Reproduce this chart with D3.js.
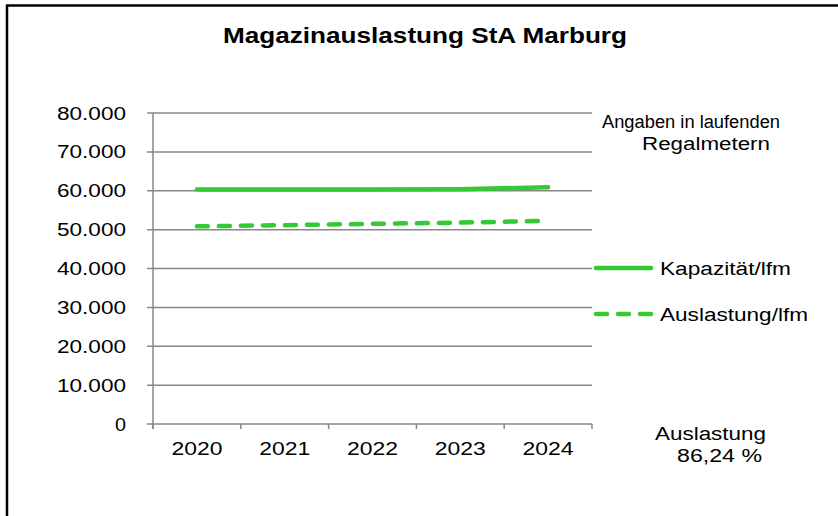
<!DOCTYPE html>
<meta charset="utf-8">
<script src="https://d3js.org/d3.v7.min.js"></script>
<style>
body{margin:0;background:#fff;}
text{font-family:"Liberation Sans",Arial,sans-serif;fill:#000;}
</style>
<body>
<div id="chart"></div>
<script>
var years = ["2020","2021","2022","2023","2024"];
var kapazitaet = [60300, 60300, 60300, 60400, 60900];
var auslastung = [50850, 51150, 51500, 51800, 52300];
var yTicks = [0,10000,20000,30000,40000,50000,60000,70000,80000];
var green = "#35c935";
var grid = "#878787";

var svg = d3.select("#chart").append("svg").attr("width",838).attr("height",516);

// Rahmen oben/links
svg.append("line").attr("x1",6).attr("x2",838).attr("y1",5.5).attr("y2",5.5).attr("stroke","#000").attr("stroke-width",2.5);
svg.append("line").attr("x1",7).attr("x2",7).attr("y1",5).attr("y2",516).attr("stroke","#000").attr("stroke-width",2.5);

var x = d3.scaleBand().domain(years).range([153,592]);
var y = d3.scaleLinear().domain([0,80000]).range([424,113]);
var fmt = function(d){ return d===0 ? "0" : d3.format(",")(d).replace(/,/g,"."); };

// Gitterlinien
svg.append("g").selectAll("line").data(yTicks).join("line")
  .attr("x1",147).attr("x2",592).attr("y1",d=>y(d)).attr("y2",d=>y(d))
  .attr("stroke",grid).attr("stroke-width",1.5);

// y-Achse
svg.append("line").attr("x1",153).attr("x2",153).attr("y1",113).attr("y2",429).attr("stroke",grid).attr("stroke-width",1.5);
svg.append("g").selectAll("text").data(yTicks).join("text")
  .attr("x",126).attr("y",d=>y(d)+6.5).attr("text-anchor","end").attr("font-size",18)
  .attr("textLength",d=>d===0?11:69).attr("lengthAdjust","spacingAndGlyphs")
  .text(fmt);

// x-Achse Striche
var xt = years.map(d=>x(d)).concat([592]);
svg.append("g").selectAll("line").data(xt).join("line")
  .attr("x1",d=>d).attr("x2",d=>d).attr("y1",424).attr("y2",429).attr("stroke",grid).attr("stroke-width",1.5);
svg.append("g").selectAll("text").data(years).join("text")
  .attr("x",d=>x(d)+x.bandwidth()/2).attr("y",455).attr("text-anchor","middle").attr("font-size",17.5)
  .attr("textLength",51).attr("lengthAdjust","spacingAndGlyphs")
  .text(d=>d);

var line = d3.line().x((d,i)=>x(years[i])+x.bandwidth()/2).y(d=>y(d));
svg.append("path").datum(kapazitaet).attr("d",line).attr("fill","none")
  .attr("stroke",green).attr("stroke-width",4.5).attr("stroke-linecap","round");
svg.append("path").datum(auslastung).attr("d",line).attr("fill","none")
  .attr("stroke",green).attr("stroke-width",4.5).attr("stroke-linecap","round")
  .attr("stroke-dasharray","11,11");

// Titel
svg.append("text").attr("x",425).attr("y",43).attr("text-anchor","middle")
  .attr("font-size",22).attr("font-weight","bold")
  .attr("textLength",404).attr("lengthAdjust","spacingAndGlyphs")
  .text("Magazinauslastung StA Marburg");

// Hinweis
svg.append("text").attr("x",691).attr("y",128).attr("text-anchor","middle").attr("font-size",18)
  .attr("textLength",178).attr("lengthAdjust","spacingAndGlyphs").text("Angaben in laufenden");
svg.append("text").attr("x",706).attr("y",150).attr("text-anchor","middle").attr("font-size",18)
  .attr("textLength",128).attr("lengthAdjust","spacingAndGlyphs").text("Regalmetern");

// Legende
var legend = [{name:"Kapazität/lfm",dash:null,y:268,w:131},{name:"Auslastung/lfm",dash:"11,11",y:314,w:148}];
var lg = svg.append("g").selectAll("g").data(legend).join("g");
lg.append("line").attr("x1",596).attr("x2",651).attr("y1",d=>d.y).attr("y2",d=>d.y)
  .attr("stroke",green).attr("stroke-width",4.5).attr("stroke-linecap","round")
  .attr("stroke-dasharray",d=>d.dash);
lg.append("text").attr("x",660).attr("y",d=>d.y+7).attr("font-size",18)
  .attr("textLength",d=>d.w).attr("lengthAdjust","spacingAndGlyphs").text(d=>d.name);

// Auslastung Prozent
svg.append("text").attr("x",655).attr("y",440).attr("font-size",18)
  .attr("textLength",111).attr("lengthAdjust","spacingAndGlyphs").text("Auslastung");
svg.append("text").attr("x",677).attr("y",462).attr("font-size",18)
  .attr("textLength",85).attr("lengthAdjust","spacingAndGlyphs").text("86,24 %");
</script>
</body>
